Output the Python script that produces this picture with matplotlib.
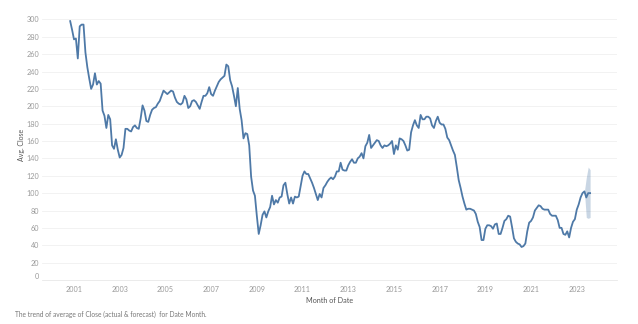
import pandas as pd
import matplotlib
matplotlib.use("Agg")
import matplotlib.pyplot as plt

# monthly average close, Nov 2000 .. Aug 2023
start_month = "2000-11-01"
close = [
    298, 288,
    277, 278, 255, 292, 294, 294, 262, 245, 232, 220, 225, 238,   # 2001
    225, 229, 226, 195, 189, 175, 190, 185, 155, 151, 162, 150,   # 2002
    141, 144, 152, 174, 174, 172, 171, 176, 178, 175, 174, 186,   # 2003
    201, 195, 183, 182, 190, 196, 198, 199, 203, 206, 212, 218,   # 2004
    216, 214, 216, 218, 217, 210, 205, 203, 202, 204, 212, 208,   # 2005
    198, 200, 206, 207, 205, 201, 197, 205, 212, 212, 215, 222,   # 2006
    214, 212, 218, 223, 228, 231, 233, 235, 248, 246, 230, 223,   # 2007
    212, 200, 221, 197, 184, 163, 169, 168, 155, 119, 103, 97,    # 2008
    74, 53, 63, 75, 79, 72, 79, 84, 97, 87, 92, 89,               # 2009
    95, 96, 109, 112, 99, 88, 95, 88, 96, 95, 96, 108,            # 2010
    120, 125, 122, 122, 117, 112, 106, 99, 92, 99, 95, 106,       # 2011
    109, 113, 116, 118, 116, 119, 125, 125, 135, 127, 126, 126,   # 2012
    132, 136, 139, 135, 135, 140, 142, 146, 140, 154, 158, 167,   # 2013
    152, 155, 158, 161, 160, 155, 152, 155, 154, 155, 157, 160,   # 2014
    145, 155, 150, 163, 162, 160, 155, 149, 150, 170, 178, 184,   # 2015
    178, 175, 190, 185, 185, 188, 188, 186, 178, 175, 183, 188,   # 2016
    181, 179, 179, 174, 164, 161, 155, 149, 144, 130, 115, 106,   # 2017
    96, 88, 81, 82, 82, 81, 80, 76, 67, 61, 46, 46,               # 2018
    59, 63, 63, 62, 59, 64, 65, 53, 53, 60, 68, 70,               # 2019
    74, 73, 61, 48, 44, 42, 41, 38, 39, 42, 56, 66,               # 2020
    68, 72, 80, 83, 86, 85, 82, 81, 81, 81, 76, 74,               # 2021
    74, 74, 69, 60, 60, 53, 52, 56, 49, 60, 67, 70,               # 2022
    81, 87, 95, 100, 102, 95, 100, 100,                           # 2023
]

# forecast band
fc_months = ["2023-05-01", "2023-06-01", "2023-07-01", "2023-08-01"]
fc_lower = [102, 72, 71, 72]
fc_upper = [102, 118, 130, 127]

year_ticks = list(range(2001, 2024, 2))
y_ticks = list(range(0, 301, 20))


def to_year(d):
    d = pd.DatetimeIndex(d)
    return d.year + (d.month - 1) / 12.0


dates = pd.date_range(start_month, periods=len(close), freq="MS")
x = to_year(dates)
xf = to_year(pd.to_datetime(fc_months))

plt.rcParams["font.family"] = ["Lato", "DejaVu Sans"]

fig = plt.figure(figsize=(6.38, 3.24), dpi=100)
ax = fig.add_axes([42 / 638, 44 / 324, 575 / 638, 269.3 / 324])

blue = "#4e79a7"
ax.fill_between(xf, fc_lower, fc_upper, color=blue, alpha=0.3, linewidth=0)
ax.plot(x, close, color=blue, linewidth=1.3, solid_joinstyle="round")

ax.set_xlim(1999.6, 2024.76)
ax.set_ylim(0, 310)
ax.set_xticks(year_ticks)
ax.set_xticklabels([str(y) for y in year_ticks])
ax.set_yticks(y_ticks)
ax.set_yticklabels([str(v) for v in y_ticks])

ax.tick_params(axis="both", length=0, labelsize=5.2, labelcolor="#9a9a9a")
ax.tick_params(axis="y", pad=2)
ax.tick_params(axis="x", pad=4)
ax.get_yticklabels()[0].set_va("bottom")

ax.grid(axis="y", color="#f0f0f0", linewidth=0.6)
ax.set_axisbelow(True)
for s in ["top", "right", "left"]:
    ax.spines[s].set_visible(False)
ax.spines["bottom"].set_color("#e8e8e8")
ax.spines["bottom"].set_linewidth(0.6)

ax.set_ylabel("Avg. Close", fontsize=5, color="#555555", labelpad=1)
ax.set_xlabel("Month of Date", fontsize=5.2, color="#555555", labelpad=3)

fig.text(15 / 638, 1 - 314 / 324, "The trend of average of Close (actual & forecast)  for Date Month.",
         fontsize=4.8, color="#777777", va="center", ha="left")

fig.savefig("out.png", dpi=100, facecolor="white")
